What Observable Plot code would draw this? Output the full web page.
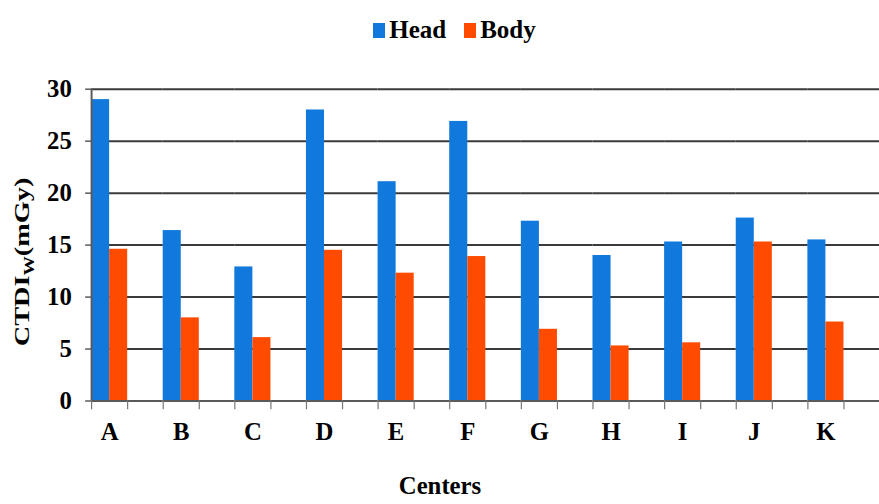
<!DOCTYPE html>
<html>
<head>
<meta charset="utf-8">
<script src="https://cdn.jsdelivr.net/npm/d3@7"></script>
<script src="https://cdn.jsdelivr.net/npm/@observablehq/plot@0.6"></script>
<style>
  html, body { margin: 0; padding: 0; background: #fff; overflow: hidden; width: 879px; height: 504px; }
  #legend { height: 60px; width: 879px; display: flex; justify-content: center; align-items: center;
            padding-left: 30px; box-sizing: border-box;
            font-family: 'Liberation Serif', 'Times New Roman', serif; font-weight: bold; font-size: 25px; }
  .item { display: flex; align-items: center; margin: 0 9px; }
  .sw { display: inline-block; width: 12px; height: 15px; margin-right: 4px; }
  #chart { width: 879px; height: 444px; overflow: hidden; }
  #chart svg { display: block; }
</style>
</head>
<body>
<div id="legend"></div>
<div id="chart"></div>
<script>
const centers = ["A", "B", "C", "D", "E", "F", "G", "H", "I", "J", "K"];
const headValues = [29.0, 16.4, 12.9, 28.0, 21.1, 26.9, 17.3, 14.0, 15.3, 17.6, 15.5];
const bodyValues = [14.6, 8.0, 6.1, 14.5, 12.3, 13.9, 6.9, 5.3, 5.6, 15.3, 7.6];
const seriesNames = ["Head", "Body"];
const seriesColors = ["#1279DC", "#FF4B00"];
const yTicks = [0, 5, 10, 15, 20, 25, 30];
const xTitle = "Centers";

const data = centers.flatMap((c, i) => [
  {center: c, series: "Head", value: headValues[i]},
  {center: c, series: "Body", value: bodyValues[i]}
]);
const headRows = data.filter(d => d.series === "Head");
const bodyRows = data.filter(d => d.series === "Body");

// legend
const legend = document.getElementById("legend");
seriesNames.forEach((s, i) => {
  const it = document.createElement("span");
  it.className = "item";
  const sw = document.createElement("span");
  sw.className = "sw";
  sw.style.background = seriesColors[i];
  it.appendChild(sw);
  it.appendChild(document.createTextNode(s));
  legend.appendChild(it);
});

const halfBar = 9.1;
const font = "'Liberation Serif', 'Times New Roman', serif";

const chart = Plot.plot({
  width: 888,
  height: 444,
  marginTop: 29,
  marginBottom: 100,
  marginLeft: 92,
  marginRight: 0,
  style: {fontFamily: font, fontWeight: "bold", color: "#000", background: "#fff"},
  fx: {domain: centers, paddingInner: 0, paddingOuter: 0, round: false, axis: null},
  x: {domain: seriesNames, paddingInner: 0, paddingOuter: 0.984, align: 0, axis: null, round: false},
  y: {domain: [0, 30]},
  color: {domain: seriesNames, range: seriesColors},
  marks: [
    Plot.ruleY(yTicks.filter(d => d > 0), {stroke: "#3a3a3a", strokeWidth: 2}),
    Plot.barY(data, {fx: "center", x: "series", y: "value", fill: "series"}),
    Plot.ruleY([0], {stroke: "#5a5a5a", strokeWidth: 2}),
    Plot.ruleX(headRows.slice(0, 1), {fx: "center", x: "series", y1: 0, y2: 30, dx: -halfBar, stroke: "#5a5a5a", strokeWidth: 2}),
    Plot.ruleX(headRows, {fx: "center", x: "series", y1: 0, y2: -0.85, dx: -halfBar, stroke: "#777", strokeWidth: 1.2}),
    Plot.ruleX(bodyRows, {fx: "center", x: "series", y1: 0, y2: -0.85, dx: halfBar, stroke: "#777", strokeWidth: 1.2}),
    Plot.axisY({ticks: yTicks, tickSize: 6, tickPadding: 14, fontSize: 25, label: null, stroke: "#5a5a5a", strokeWidth: 1.5, fill: "#000"}),
    Plot.text(headRows, {fx: "center", x: "series", y: 0, text: "center", dx: halfBar, dy: 31, lineAnchor: "middle", fontSize: 25, fontWeight: "bold", fill: "#000"})
  ]
});

document.getElementById("chart").appendChild(chart);

const svg = d3.select(chart.tagName.toLowerCase() === "svg" ? chart : chart.querySelector("svg"));

// x-axis title
svg.append("text")
  .attr("x", 444.5).attr("y", 438)
  .attr("text-anchor", "middle")
  .attr("font-family", font).attr("font-weight", "bold").attr("font-size", 25)
  .attr("fill", "#000")
  .text(xTitle);

// y-axis title with subscript
const t = svg.append("text")
  .attr("transform", "translate(29,204) rotate(-90) scale(1.3,1)")
  .attr("text-anchor", "middle")
  .attr("font-family", font)
  .attr("font-weight", "bold")
  .attr("font-size", 22)
  .attr("fill", "#000");
t.append("tspan").text("CTDI");
t.append("tspan").attr("font-size", 15).attr("dy", 5).text("W");
t.append("tspan").attr("dy", -5).text("(mGy)");
</script>
</body>
</html>
